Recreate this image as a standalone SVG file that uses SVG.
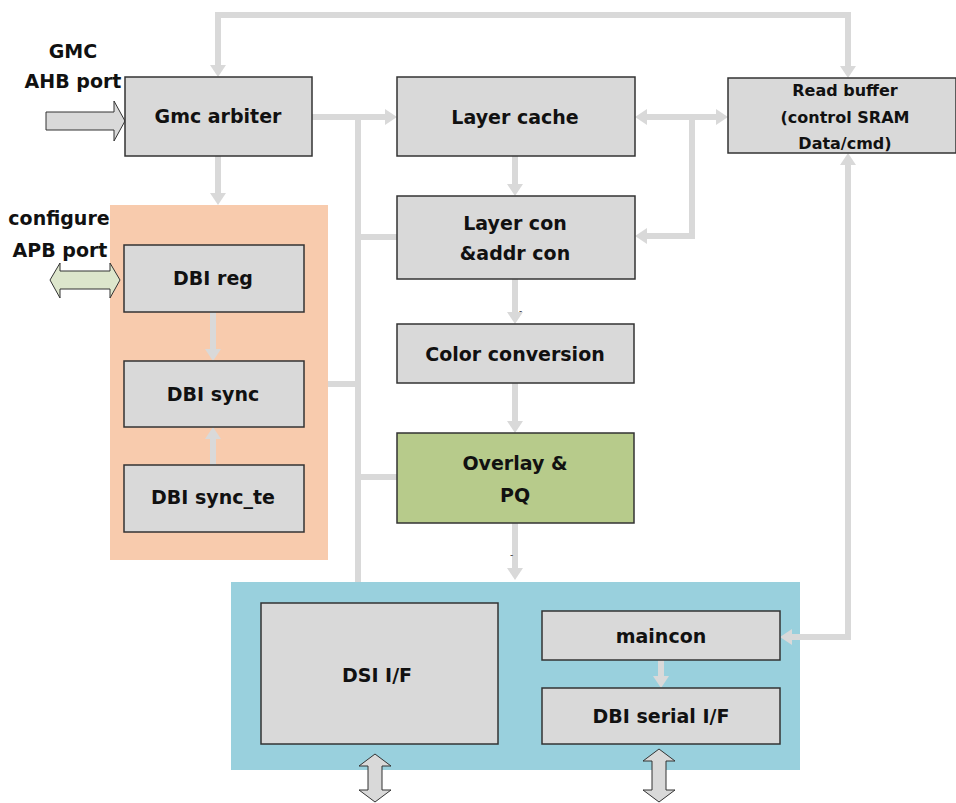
<svg xmlns="http://www.w3.org/2000/svg" width="956" height="803" viewBox="0 0 956 803">
<defs>
<marker id="ah" viewBox="0 0 12 16" refX="2" refY="8" markerUnits="userSpaceOnUse" markerWidth="12" markerHeight="16" orient="auto-start-reverse">
<path d="M0,0 L12,8 L0,16 z" fill="#d9d9d9"/>
</marker>
<style>
.box{fill:#d9d9d9;stroke:#333;stroke-width:1.5}
.t{font-family:"DejaVu Sans",Verdana,sans-serif;font-weight:bold;font-size:19px;fill:#111;text-anchor:middle}
.s{font-size:16px}
.c{fill:none;stroke:#d9d9d9;stroke-width:6;stroke-linejoin:miter}
.ca{fill:none;stroke:#d9d9d9;stroke-width:6;marker-end:url(#ah)}
.cb{fill:none;stroke:#d9d9d9;stroke-width:6;marker-start:url(#ah);marker-end:url(#ah)}
.port{stroke:#333;stroke-width:1}
</style>
</defs>
<rect width="956" height="803" fill="#fff"/>

<g id="dbi-group"><rect x="110" y="205" width="218" height="355" fill="#f8cbad"/></g>
<g id="output-group"><rect x="231" y="582" width="569" height="188" fill="#99d0dd"/></g>

<g id="connectors">
<path class="cb" d="M218,67 L218,15 L848,15 L848,68"/>
<path class="ca" d="M312,117 L387,117"/>
<path class="c" d="M358,117 L358,582"/>
<path class="c" d="M358,237 L397,237"/>
<path class="c" d="M328,384 L358,384"/>
<path class="c" d="M358,477 L397,477"/>
<path class="ca" d="M515,156 L515,186"/>
<path class="cb" d="M645,117 L718,117"/>
<path class="ca" d="M692,117 L692,236 L645,236"/>
<path class="ca" d="M515,279 L515,314"/>
<path class="ca" d="M515,383 L515,423"/>
<path class="ca" d="M515,523 L515,570"/>
<path class="cb" d="M848,163 L848,637 L790,637"/>
<path class="ca" d="M218,156 L218,195"/>
<path class="ca" d="M213,312 L213,351"/>
<path class="ca" d="M213,465 L213,437"/>
<path class="ca" d="M661,660 L661,678"/>
</g>

<g id="gmc-port">
<polygon class="port" fill="#d9d9d9" points="46,112 114,112 114,101 125,121 114,141 114,130 46,130"/>
<text class="t" x="73" y="58">GMC</text>
<text class="t" x="73" y="88">AHB port</text>
</g>
<g id="apb-port">
<polygon class="port" fill="#dde6cc" points="50,280 60,263 60,271 110,271 110,263 120,280 110,298 110,289 60,289 60,298"/>
<text class="t" x="59" y="225">configure</text>
<text class="t" x="60" y="257">APB port</text>
</g>

<g id="gmc-arbiter"><rect class="box" x="125" y="77" width="187" height="79"/><text class="t" x="218" y="123">Gmc arbiter</text></g>
<g id="layer-cache"><rect class="box" x="397" y="77" width="238" height="79"/><text class="t" x="515" y="124">Layer cache</text></g>
<g id="read-buffer"><rect class="box" x="728" y="78" width="228" height="75"/>
<text class="t s" x="845" y="96">Read buffer</text><text class="t s" x="845" y="123">(control SRAM</text><text class="t s" x="845" y="149">Data/cmd)</text></g>
<g id="layer-con"><rect class="box" x="397" y="196" width="238" height="83"/><text class="t" x="515" y="230">Layer con</text><text class="t" x="515" y="260">&amp;addr con</text></g>
<g id="color-conversion"><rect class="box" x="397" y="324" width="237" height="59"/><text class="t" x="515" y="361">Color conversion</text></g>
<g id="overlay-pq"><rect x="397" y="433" width="237" height="90" fill="#b7cb8b" stroke="#333" stroke-width="1.5"/><text class="t" x="515" y="470">Overlay &amp;</text><text class="t" x="515" y="502">PQ</text></g>
<g id="dash-labels"><text x="519" y="314" font-family="DejaVu Sans,sans-serif" font-size="9" fill="#222">-</text><text x="510" y="558" font-family="DejaVu Sans,sans-serif" font-size="9" fill="#222">-</text></g>

<g id="dbi-reg"><rect class="box" x="124" y="245" width="180" height="67"/><text class="t" x="213" y="285">DBI reg</text></g>
<g id="dbi-sync"><rect class="box" x="124" y="361" width="180" height="66"/><text class="t" x="213" y="401">DBI sync</text></g>
<g id="dbi-sync-te"><rect class="box" x="124" y="465" width="180" height="67"/><text class="t" x="213" y="504">DBI sync_te</text></g>

<g id="dsi-if"><rect class="box" x="261" y="603" width="237" height="141"/><text class="t" x="377" y="682">DSI I/F</text></g>
<g id="maincon"><rect class="box" x="542" y="611" width="238" height="49"/><text class="t" x="661" y="643">maincon</text></g>
<g id="dbi-serial-if"><rect class="box" x="542" y="688" width="238" height="56"/><text class="t" x="661" y="723">DBI serial I/F</text></g>

<g id="bottom-ports">
<polygon class="port" fill="#d9d9d9" points="375,754 391,766 382,766 382,790 391,790 375,802 359,790 368,790 368,766 359,766"/>
<polygon class="port" fill="#d9d9d9" points="659,749 675,761 666,761 666,790 675,790 659,802 643,790 652,790 652,761 643,761"/>
</g>
</svg>
